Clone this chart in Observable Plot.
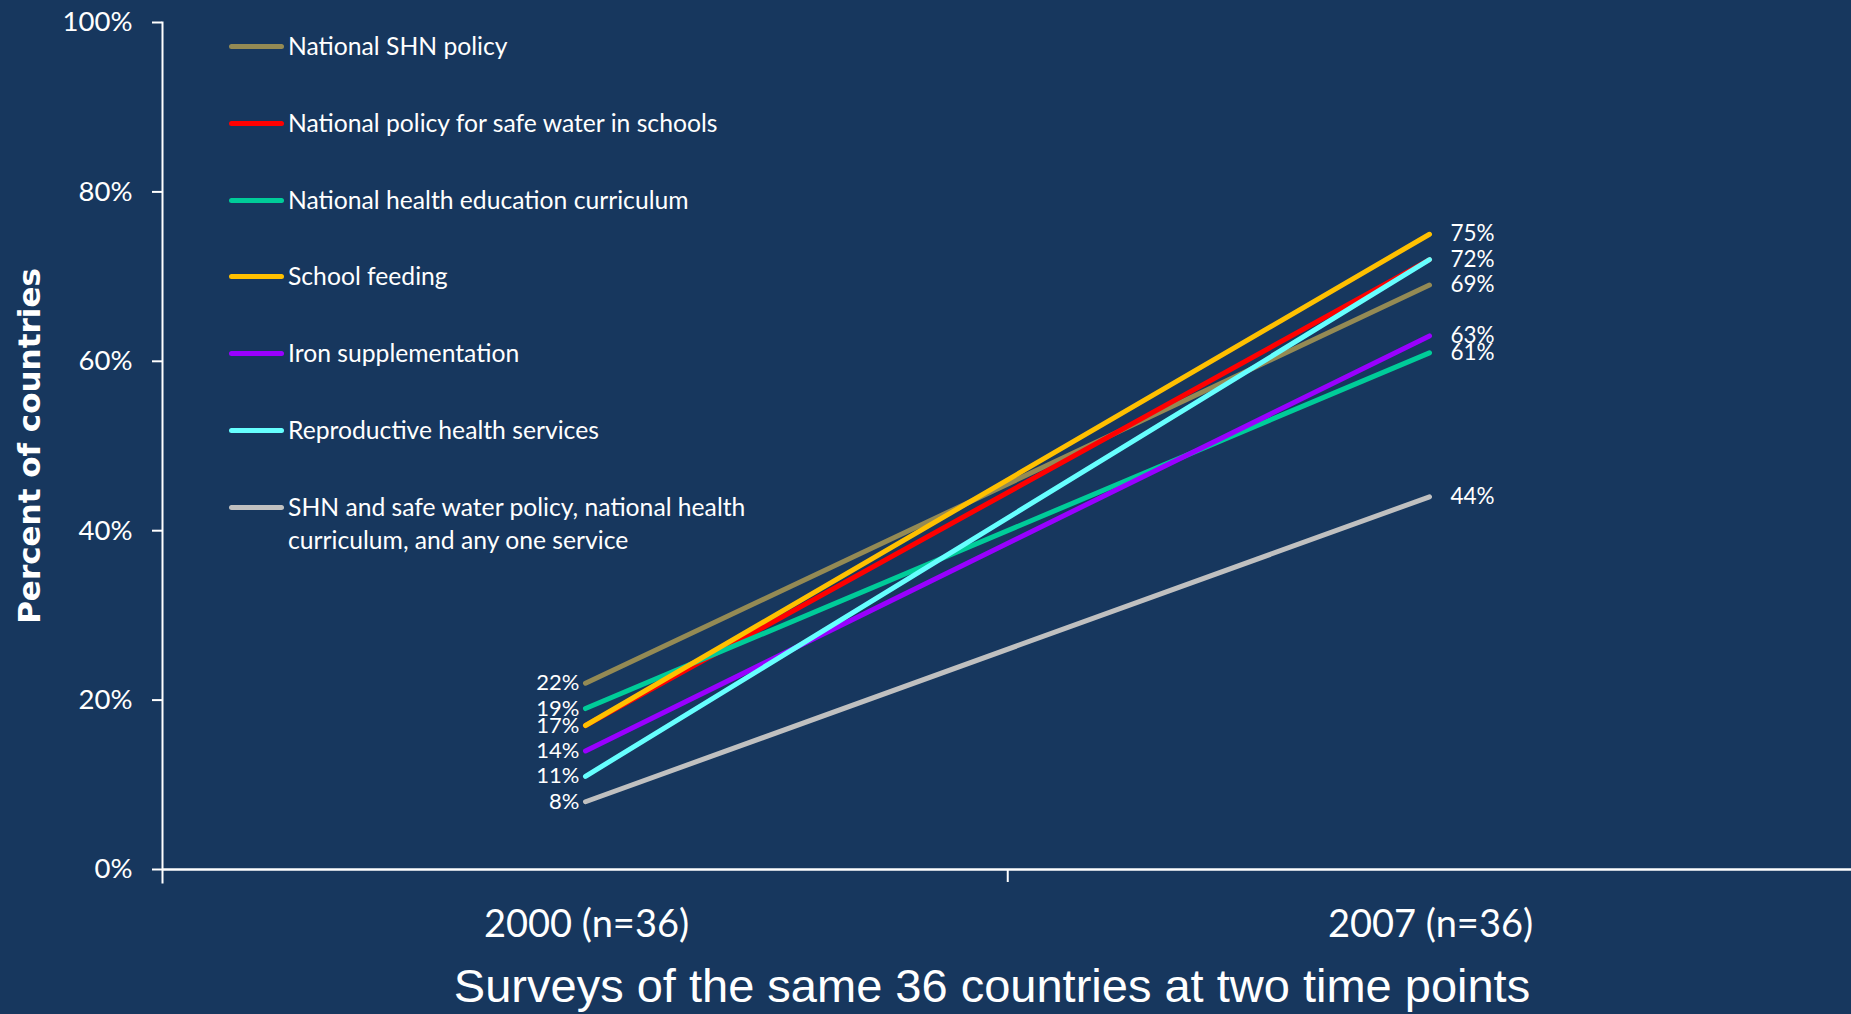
<!DOCTYPE html>
<html>
<head>
<meta charset="utf-8">
<script src="https://cdn.jsdelivr.net/npm/d3@7"></script>
<script src="https://cdn.jsdelivr.net/npm/@observablehq/plot@0.6"></script>
<style>
  html, body { margin: 0; padding: 0; background: #17375E; }
  #wrap { position: relative; width: 1851px; height: 1014px; overflow: hidden; }
  #legend { position: absolute; left: 0; top: 0; width: 0; height: 0; font-family: Lato, sans-serif; color: #fff; }
  .swatch { position: absolute; height: 5px; border-radius: 2.5px; }
  .ltext { position: absolute; font-size: 24.7px; line-height: 33px; white-space: normal; }
</style>
</head>
<body>
<div id="wrap"><div id="chart"></div><div id="legend"></div></div>
<script>
// ---- data ----
const surveys = ["2000 (n=36)", "2007 (n=36)"];
const seriesNames = [
  "National SHN policy",
  "National policy for safe water in schools",
  "National health education curriculum",
  "School feeding",
  "Iron supplementation",
  "Reproductive health services",
  "SHN and safe water policy, national health curriculum, and any one service"
];
const seriesColors = ["#948A54", "#FF0000", "#00CC99", "#FFC000", "#9900FF", "#66FFFF", "#C0C0C0"];
const values2000 = [22, 17, 19, 17, 14, 11, 8];
const values2007 = [69, 72, 61, 75, 63, 72, 44];
const labels2000 = [22, 19, 17, 14, 11, 8];
const labels2007 = [75, 72, 69, 63, 61, 44];
const yTicks = [0, 20, 40, 60, 80, 100];
const xTitle = "Surveys of the same 36 countries at two time points";
const yTitle = "Percent of countries";

// ---- table ----
const rows = [];
seriesNames.forEach((s, i) => {
  rows.push({series: s, survey: surveys[0], value: values2000[i]});
  rows.push({series: s, survey: surveys[1], value: values2007[i]});
});

// ---- layout ----
const W = 1851, H = 1014, mL = 162, mR = 0, mT = 22, mB = 145;
const band = (W - mL - mR) / surveys.length;
const white = "#ffffff";

const chart = Plot.plot({
  width: W, height: H,
  marginLeft: mL, marginRight: mR, marginTop: mT, marginBottom: mB,
  style: {background: "#17375E", color: white, fontFamily: "Lato, sans-serif"},
  x: {type: "band", domain: surveys, padding: 0},
  y: {domain: [0, 100]},
  color: {domain: seriesNames, range: seriesColors},
  marks: [
    Plot.axisY({ticks: yTicks, tickFormat: d => d + "%", tickSize: 10, tickPadding: 20,
      fontSize: 27.5, stroke: white, strokeWidth: 2, strokeOpacity: 1, label: null}),
    Plot.axisX({tickSize: 0, tickPadding: 41, fontSize: 38, label: null, dx: 1}),
    Plot.frame({anchor: "left", stroke: white, strokeWidth: 2, insetBottom: -13}),
    Plot.ruleX([surveys[0]], {x: d => d, y1: 0, y2: 0, insetBottom: -13, dx: band / 2, stroke: white, strokeWidth: 2}),
    Plot.ruleY([0], {stroke: white, strokeWidth: 2.5}),
    Plot.line(rows, {x: "survey", y: "value", z: "series", stroke: "series",
      strokeWidth: 5, strokeLinecap: "round", strokeLinejoin: "round"}),
    Plot.text(labels2000, {x: () => surveys[0], y: d => d, text: d => d + "%",
      textAnchor: "end", dx: -6, fontSize: 22, fill: white}),
    Plot.text(labels2007, {x: () => surveys[1], y: d => d, text: d => d + "%",
      textAnchor: "start", dx: 21, fontSize: 22.5, fill: white}),
    Plot.text([xTitle], {frameAnchor: "bottom", lineAnchor: "middle", textAnchor: "middle",
      dy: 117, dx: -15, fontSize: 47, fontFamily: "Liberation Sans, Arial, sans-serif", fill: white}),
    Plot.text([yTitle], {frameAnchor: "left", rotate: -90, textAnchor: "middle", lineAnchor: "middle",
      dx: -132, fontSize: 31, fontWeight: "bold", fontFamily: "DejaVu Sans, sans-serif", fill: white})
  ]
});
document.getElementById("chart").appendChild(chart);

// ---- legend (overlay) ----
const legend = document.getElementById("legend");
const rowStep = 76.85, firstRow = 46.3;
seriesNames.forEach((s, i) => {
  const cy = firstRow + i * rowStep;
  const sw = document.createElement("div");
  sw.className = "swatch";
  sw.style.left = "229px"; sw.style.width = "55px";
  sw.style.top = (cy - 2.5) + "px";
  sw.style.background = seriesColors[i];
  legend.appendChild(sw);
  const t = document.createElement("div");
  t.className = "ltext";
  t.style.left = "288px"; t.style.width = "480px";
  t.style.top = (cy - 17.5) + "px";
  t.textContent = s;
  legend.appendChild(t);
});
</script>
</body>
</html>
